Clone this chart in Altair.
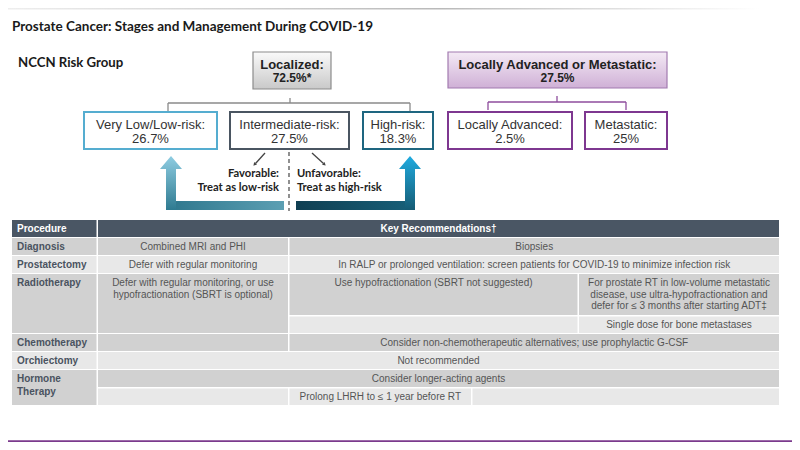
import altair as alt
import pandas as pd

# ------------------------------------------------------------------ values
title_text = "Prostate Cancer: Stages and Management During COVID-19"
group_label = "NCCN Risk Group"
stage_names = ["Localized:", "Locally Advanced or Metastatic:"]
stage_values = ["72.5%*", "27.5%"]
risk_names = ["Very Low/Low-risk:", "Intermediate-risk:", "High-risk:",
              "Locally Advanced:", "Metastatic:"]
risk_values = ["26.7%", "27.5%", "18.3%", "2.5%", "25%"]
branch_titles = ["Favorable:", "Unfavorable:"]
branch_notes = ["Treat as low-risk", "Treat as high-risk"]
table_header = ["Procedure", "Key Recommendations\u2020"]
procedures = ["Diagnosis", "Prostatectomy", "Radiotherapy", "Chemotherapy",
              "Orchiectomy", "Hormone\nTherapy"]
diagnosis_recs = ["Combined MRI and PHI", "Biopsies"]
prostatectomy_recs = ["Defer with regular monitoring",
                      "In RALP or prolonged ventilation: screen patients for COVID-19 to minimize infection risk"]
radiotherapy_recs = ["Defer with regular monitoring, or use\nhypofractionation (SBRT is optional)",
                     "Use hypofractionation (SBRT not suggested)",
                     "For prostate RT in low-volume metastatic\ndisease, use ultra-hypofractionation and\ndefer for \u2264 3 months after starting ADT\u2021",
                     "", "Single dose for bone metastases"]
chemotherapy_recs = ["", "Consider non-chemotherapeutic alternatives; use prophylactic G-CSF"]
orchiectomy_recs = ["Not recommended"]
hormone_recs = ["Consider longer-acting agents", "", "Prolong LHRH to \u2264 1 year before RT", ""]

# ------------------------------------------------------------------ layout (reference pixel grid)
XS = alt.Scale(domain=[8, 792], nice=False, zero=False)
YS = alt.Scale(domain=[8, 442], nice=False, zero=False, reverse=True)
TITLE_FONT = "Lato"
BODY_FONT = "Liberation Sans"

HEAD, DARK, LIGHT = "#4a5664", "#d1d1d1", "#e8e8e8"
C0, C1, C2, C3 = (12, 96.5), (98, 288), (289.5, 577.5), (579, 779)
C23 = (C2[0], C3[1])
C123 = (C1[0], C3[1])
PROLONG = (289.5, 471)
REST = (472.5, 779)
LINE_H = 11.5

rows = [
    [(C1, 238, 255, DARK, diagnosis_recs[0], "m"), (C23, 238, 255, DARK, diagnosis_recs[1], "m")],
    [(C1, 256, 273, LIGHT, prostatectomy_recs[0], "m"), (C23, 256, 273, LIGHT, prostatectomy_recs[1], "m")],
    [(C1, 274, 333, DARK, radiotherapy_recs[0], "t"), (C2, 274, 315, DARK, radiotherapy_recs[1], "t"),
     (C3, 274, 315, DARK, radiotherapy_recs[2], "t"), (C2, 316.5, 333, LIGHT, radiotherapy_recs[3], "m"),
     (C3, 316.5, 333, LIGHT, radiotherapy_recs[4], "m")],
    [(C1, 334, 351, DARK, chemotherapy_recs[0], "m"), (C23, 334, 351, DARK, chemotherapy_recs[1], "m")],
    [(C123, 352, 369, LIGHT, orchiectomy_recs[0], "m")],
    [(C123, 370, 387, DARK, hormone_recs[0], "m"), (C1, 388.5, 405, LIGHT, hormone_recs[1], "m"),
     (PROLONG, 388.5, 405, LIGHT, hormone_recs[2], "m"), (REST, 388.5, 405, LIGHT, hormone_recs[3], "m")],
]
proc_rows = [(238, 255, DARK, "m"), (256, 273, LIGHT, "m"), (274, 333, DARK, "t"),
             (334, 351, DARK, "m"), (352, 369, LIGHT, "m"), (370, 405, DARK, "t")]

cells, texts = [], []
cells.append(dict(x0=C0[0], x1=C0[1], y0=220, y1=237, fill=HEAD))
cells.append(dict(x0=C123[0], x1=C123[1], y0=220, y1=237, fill=HEAD))
head_df = pd.DataFrame([dict(x=17, y=228.5, t=table_header[0], c="white", a="left"),
                        dict(x=(C123[0] + C123[1]) / 2, y=228.5, t=table_header[1], c="white", a="center")])

proc_text = []
for name, (y0, y1, tone, va) in zip(procedures, proc_rows):
    cells.append(dict(x0=C0[0], x1=C0[1], y0=y0, y1=y1, fill=tone))
    for i, ln in enumerate(name.split("\n")):
        yy = (y0 + y1) / 2 if va == "m" else y0 + 9 + i * 13
        proc_text.append(dict(x=17, y=yy, t=ln, c="#4a5360"))

for row in rows:
    for (span, y0, y1, tone, txt, va) in row:
        cells.append(dict(x0=span[0], x1=span[1], y0=y0, y1=y1, fill=tone))
        if txt:
            for i, ln in enumerate(txt.split("\n")):
                yy = (y0 + y1) / 2 if va == "m" else y0 + 9 + i * LINE_H
                texts.append(dict(x=(span[0] + span[1]) / 2, y=yy, t=ln, c="#555555"))

cells_df = pd.DataFrame(cells)
texts_df = pd.DataFrame(texts)
proc_df = pd.DataFrame(proc_text)

risk_boxes = [(84, 217, "#55add0"), (230, 349, "#4a5561"), (363, 433, "#1e6680"),
              (448, 572, "#7e3790"), (585, 667, "#7e3790")]
risk_df = pd.DataFrame([dict(x0=b[0], x1=b[1], y0=112, y1=149, stroke=b[2]) for b in risk_boxes])
risk_text = []
for (b, n, v) in zip(risk_boxes, risk_names, risk_values):
    cx = (b[0] + b[1]) / 2
    risk_text.append(dict(x=cx, y=124.5, t=n, c="#333333"))
    risk_text.append(dict(x=cx, y=138.5, t=v, c="#333333"))
risk_text_df = pd.DataFrame(risk_text)

stage_boxes = [(253, 331, 52, 89), (448, 667, 52, 88)]
stage_grads = [
    dict(gradient="linear", x1=0, y1=0, x2=0, y2=1,
         stops=[dict(offset=0, color="#fafafa"), dict(offset=1, color="#c9c9c9")]),
    dict(gradient="linear", x1=0, y1=0, x2=0, y2=1,
         stops=[dict(offset=0, color="#f4eaf5"), dict(offset=1, color="#cfb0d6")]),
]
stage_strokes = ["#8c8c8c", "#a27bb0"]
stage_text = []
for b, n, v in zip(stage_boxes, stage_names, stage_values):
    cx = (b[0] + b[1]) / 2
    stage_text.append(dict(x=cx, y=64.5, t=n, c="#222222", s=13))
    stage_text.append(dict(x=cx, y=78, t=v, c="#222222", s=12))
stage_text_df = pd.DataFrame(stage_text)

brackets = [
    dict(x=168, y=103, x2=410, y2=103, c="#8a8a8a"), dict(x=168, y=103, x2=168, y2=111, c="#8a8a8a"),
    dict(x=410, y=103, x2=410, y2=111, c="#8a8a8a"), dict(x=290, y=98, x2=290, y2=103, c="#8a8a8a"),
    dict(x=488, y=102, x2=626, y2=102, c="#8e4d9d"), dict(x=488, y=102, x2=488, y2=110, c="#8e4d9d"),
    dict(x=626, y=102, x2=626, y2=110, c="#8e4d9d"), dict(x=557, y=96, x2=557, y2=102, c="#8e4d9d"),
    dict(x=265, y=153, x2=255.5, y2=163.5, c="#444444"), dict(x=312, y=153, x2=323.5, y2=163.5, c="#444444"),
]
br_df = pd.DataFrame(brackets)
heads_df = pd.DataFrame([dict(x=254.5, y=164.5, a=222), dict(x=324.5, y=164.5, a=132)])
dash_df = pd.DataFrame([dict(x=289, y=152, x2=289, y2=211)])

branch_df = pd.DataFrame([
    dict(x=279, y=174, t=branch_titles[0], a="right"), dict(x=279, y=187.5, t=branch_notes[0], a="right"),
    dict(x=297, y=174, t=branch_titles[1], a="left"), dict(x=297, y=187.5, t=branch_notes[1], a="left"),
])

# big L-arrows: vertical arrow drawn as a custom symbol, horizontal band as a rect
ARROW_TIP, ARROW_BASE, ARROW_BOTTOM, HEAD_HALF, SHAFT_HALF = 156, 169, 210, 11, 5


def arrow_path():
    s = HEAD_HALF
    tip = -(ARROW_BOTTOM - ARROW_TIP) / s
    base = -(ARROW_BOTTOM - ARROW_BASE) / s
    sh = SHAFT_HALF / s
    return (f"M0,{tip:.4f}L1,{base:.4f}L{sh:.4f},{base:.4f}L{sh:.4f},0"
            f"L{-sh:.4f},0L{-sh:.4f},{base:.4f}L-1,{base:.4f}Z")


arrow_specs = [
    dict(cx=171, band=(166, 284), top="#8fcde2", bot="#2e7a90", bl="#2d768c", br="#5c9fb3"),
    dict(cx=410, band=(296, 415), top="#20abe0", bot="#155a73", bl="#103f52", br="#17607a"),
]

layers = []
strip_df = pd.DataFrame([dict(x0=0, x1=800, y0=0, y1=9.5)])
layers.append(alt.Chart(strip_df).mark_rect(fill=dict(
    gradient="linear", x1=0, y1=0, x2=1, y2=0,
    stops=[dict(offset=0, color="#efefef"), dict(offset=0.55, color="#b9b9b9"),
           dict(offset=0.95, color="#ffffff"), dict(offset=1, color="#ffffff")])).encode(
    x=alt.X("x0:Q", scale=XS, axis=None), x2="x1:Q", y=alt.Y("y0:Q", scale=YS, axis=None), y2="y1:Q"))
line_df = pd.DataFrame([dict(x0=0, x1=800, y0=440.3, y1=442)])
layers.append(alt.Chart(line_df).mark_rect(fill="#7b3a8d").encode(
    x=alt.X("x0:Q", scale=XS, axis=None), x2="x1:Q", y=alt.Y("y0:Q", scale=YS, axis=None), y2="y1:Q"))

layers.append(alt.Chart(pd.DataFrame([dict(x=12, y=31, t=title_text)])).mark_text(
    font=TITLE_FONT, fontWeight="bold", fontSize=13.5, align="left", baseline="alphabetic",
    color="#1a1a1a").encode(x=alt.X("x:Q", scale=XS, axis=None), y=alt.Y("y:Q", scale=YS, axis=None), text="t:N"))
layers.append(alt.Chart(pd.DataFrame([dict(x=18, y=67, t=group_label)])).mark_text(
    font=TITLE_FONT, fontWeight="bold", fontSize=13.2, align="left", baseline="alphabetic",
    color="#1a1a1a").encode(x=alt.X("x:Q", scale=XS, axis=None), y=alt.Y("y:Q", scale=YS, axis=None), text="t:N"))

path = arrow_path()
for sp in arrow_specs:
    band_df = pd.DataFrame([dict(x0=sp["band"][0], x1=sp["band"][1], y0=201, y1=210)])
    layers.append(alt.Chart(band_df).mark_rect(fill=dict(
        gradient="linear", x1=0, y1=0, x2=1, y2=0,
        stops=[dict(offset=0, color=sp["bl"]), dict(offset=1, color=sp["br"])])).encode(
        x=alt.X("x0:Q", scale=XS, axis=None), x2="x1:Q", y=alt.Y("y0:Q", scale=YS, axis=None), y2="y1:Q"))
    pt_df = pd.DataFrame([dict(x=sp["cx"], y=ARROW_BOTTOM)])
    layers.append(alt.Chart(pt_df).mark_point(
        shape=path, size=(2 * HEAD_HALF) ** 2, filled=True, opacity=1, strokeWidth=0,
        fill=dict(gradient="linear", x1=0, y1=0, x2=0, y2=1,
                  stops=[dict(offset=0, color=sp["top"]), dict(offset=1, color=sp["bot"])])).encode(
        x=alt.X("x:Q", scale=XS, axis=None), y=alt.Y("y:Q", scale=YS, axis=None)))

for b, g, s in zip(stage_boxes, stage_grads, stage_strokes):
    bdf = pd.DataFrame([dict(x0=b[0], x1=b[1], y0=b[2], y1=b[3])])
    layers.append(alt.Chart(bdf).mark_rect(fill=g, stroke=s, strokeWidth=1.2).encode(
        x=alt.X("x0:Q", scale=XS, axis=None), x2="x1:Q", y=alt.Y("y0:Q", scale=YS, axis=None), y2="y1:Q"))
layers.append(alt.Chart(stage_text_df).mark_text(
    font=BODY_FONT, fontWeight="bold", align="center", baseline="middle").encode(
    x=alt.X("x:Q", scale=XS, axis=None), y=alt.Y("y:Q", scale=YS, axis=None), text="t:N",
    color=alt.Color("c:N", scale=None), size=alt.Size("s:Q", scale=None)))

layers.append(alt.Chart(br_df).mark_rule(strokeWidth=1.3).encode(
    x=alt.X("x:Q", scale=XS, axis=None), y=alt.Y("y:Q", scale=YS, axis=None), x2="x2:Q", y2="y2:Q",
    color=alt.Color("c:N", scale=None)))
layers.append(alt.Chart(heads_df).mark_point(shape="triangle-up", filled=True, size=14, color="#444444", opacity=1).encode(
    x=alt.X("x:Q", scale=XS, axis=None), y=alt.Y("y:Q", scale=YS, axis=None), angle=alt.Angle("a:Q", scale=None)))
layers.append(alt.Chart(dash_df).mark_rule(strokeWidth=1.3, strokeDash=[4, 3], color="#555555").encode(
    x=alt.X("x:Q", scale=XS, axis=None), y=alt.Y("y:Q", scale=YS, axis=None), x2="x2:Q", y2="y2:Q"))

layers.append(alt.Chart(risk_df).mark_rect(fill="white", strokeWidth=2).encode(
    x=alt.X("x0:Q", scale=XS, axis=None), x2="x1:Q", y=alt.Y("y0:Q", scale=YS, axis=None), y2="y1:Q",
    stroke=alt.Stroke("stroke:N", scale=None)))
layers.append(alt.Chart(risk_text_df).mark_text(
    font=BODY_FONT, fontSize=13, align="center", baseline="middle").encode(
    x=alt.X("x:Q", scale=XS, axis=None), y=alt.Y("y:Q", scale=YS, axis=None), text="t:N",
    color=alt.Color("c:N", scale=None)))

for al in ["left", "right"]:
    layers.append(alt.Chart(branch_df[branch_df.a == al]).mark_text(
        font=TITLE_FONT, fontWeight="bold", fontSize=11.2, align=al, baseline="middle",
        color="#222222").encode(x=alt.X("x:Q", scale=XS, axis=None), y=alt.Y("y:Q", scale=YS, axis=None),
                                text="t:N"))

layers.append(alt.Chart(cells_df).mark_rect().encode(
    x=alt.X("x0:Q", scale=XS, axis=None), x2="x1:Q", y=alt.Y("y0:Q", scale=YS, axis=None), y2="y1:Q",
    fill=alt.Fill("fill:N", scale=None)))
for al in ["left", "center"]:
    layers.append(alt.Chart(head_df[head_df.a == al]).mark_text(
        font=BODY_FONT, fontWeight="bold", fontSize=10, align=al, baseline="middle").encode(
        x=alt.X("x:Q", scale=XS, axis=None), y=alt.Y("y:Q", scale=YS, axis=None), text="t:N",
        color=alt.Color("c:N", scale=None)))
layers.append(alt.Chart(proc_df).mark_text(
    font=BODY_FONT, fontWeight="bold", fontSize=10, align="left", baseline="middle").encode(
    x=alt.X("x:Q", scale=XS, axis=None), y=alt.Y("y:Q", scale=YS, axis=None), text="t:N",
    color=alt.Color("c:N", scale=None)))
layers.append(alt.Chart(texts_df).mark_text(
    font=BODY_FONT, fontSize=10, align="center", baseline="middle").encode(
    x=alt.X("x:Q", scale=XS, axis=None), y=alt.Y("y:Q", scale=YS, axis=None), text="t:N",
    color=alt.Color("c:N", scale=None)))

chart = alt.layer(*layers).properties(
    width=784, height=434, padding=0, autosize=alt.AutoSizeParams(type="none"), background="white"
).configure_view(stroke=None)

chart.save("out.html", embed_options={"renderer": "svg", "actions": False})
